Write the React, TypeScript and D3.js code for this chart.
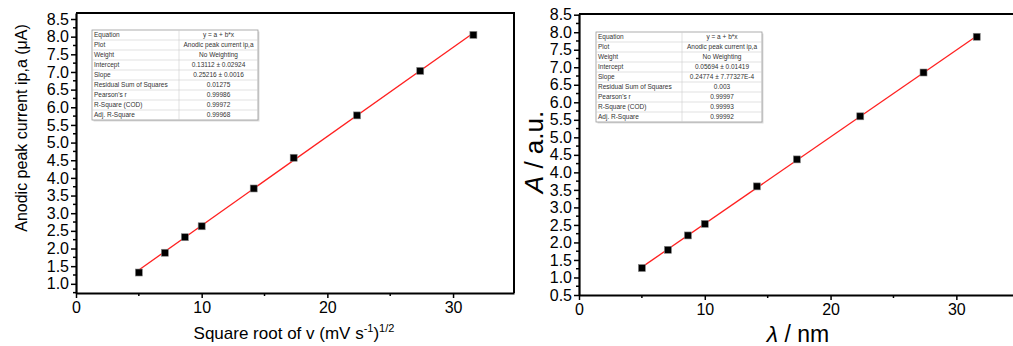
import { useRef, useEffect } from "react";
import * as d3 from "d3";

// square root of scan rate
const sqrtV = [5, 7.07, 8.66, 10, 14.14, 17.32, 22.36, 27.39, 31.62];
const currentA = [1.32, 1.88, 2.32, 2.63, 3.7, 4.57, 5.77, 7.03, 8.05];
const absB = [1.27, 1.79, 2.2, 2.53, 3.6, 4.37, 5.6, 6.85, 7.87];

const fitA = [0.13112, 0.25216];
const fitB = [0.05694, 0.24774];

const tableKeys = [
  "Equation",
  "Plot",
  "Weight",
  "Intercept",
  "Slope",
  "Residual Sum of Squares",
  "Pearson's r",
  "R-Square (COD)",
  "Adj. R-Square",
];
const tableA = [
  "y = a + b*x",
  "Anodic peak current ip,a",
  "No Weighting",
  "0.13112 \u00b1 0.02924",
  "0.25216 \u00b1 0.0016",
  "0.01275",
  "0.99986",
  "0.99972",
  "0.99968",
];
const tableB = [
  "y = a + b*x",
  "Anodic peak current ip,a",
  "No Weighting",
  "0.05694 \u00b1 0.01419",
  "0.24774 \u00b1 7.77327E-4",
  "0.003",
  "0.99997",
  "0.99993",
  "0.99992",
];

const yTicksA = d3.range(1, 8.51, 0.5);
const yTicksB = d3.range(0.5, 8.51, 0.5);
const xTicks = [0, 10, 20, 30];

const FONT = "Liberation Sans, Arial, sans-serif";

function drawPanel(svg, opt) {
  const { x0, x1, yTop, yBot, xDom, yDom, xs, ys, fit, yTicks, table, tbl } = opt;
  const g = svg.append("g");
  const x = d3.scaleLinear().domain(xDom).range([x0, x1]);
  const y = d3.scaleLinear().domain(yDom).range([yBot, yTop]);

  // frame (top and right)
  g.append("path")
    .attr("d", `M${x0},${yTop}H${x1}V${yBot}`)
    .attr("fill", "none")
    .attr("stroke", "#000")
    .attr("stroke-width", 2);

  // minor ticks
  const xMinor = d3.range(5, xDom[1], 10);
  g.selectAll(".xminor")
    .data(xMinor)
    .join("line")
    .attr("x1", (d) => x(d))
    .attr("x2", (d) => x(d))
    .attr("y1", yBot)
    .attr("y2", yBot + 3)
    .attr("stroke", "#000")
    .attr("stroke-width", 1.5);
  const yMinor = d3.range(yTicks[0] - 0.25, yDom[1], 0.5).filter((d) => d >= yDom[0]);
  g.selectAll(".yminor")
    .data(yMinor)
    .join("line")
    .attr("x1", x0)
    .attr("x2", x0 - 3)
    .attr("y1", (d) => y(d))
    .attr("y2", (d) => y(d))
    .attr("stroke", "#000")
    .attr("stroke-width", 1.5);

  const xAxis = g
    .append("g")
    .attr("transform", `translate(0,${yBot})`)
    .call(d3.axisBottom(x).tickValues(xTicks).tickSize(5).tickSizeOuter(0).tickPadding(4).tickFormat(d3.format("d")));
  const yAxis = g
    .append("g")
    .attr("transform", `translate(${x0},0)`)
    .call(d3.axisLeft(y).tickValues(yTicks).tickSize(5).tickSizeOuter(0).tickPadding(2).tickFormat(d3.format(".1f")));
  [xAxis, yAxis].forEach((a) => {
    a.select(".domain").attr("stroke-width", 2.2);
    a.selectAll(".tick line").attr("stroke-width", 1.5);
    a.selectAll("text").attr("font-family", FONT).attr("font-size", 16).attr("fill", "#000");
  });

  // fit line
  const line = d3
    .line()
    .x((d) => x(d))
    .y((d) => y(fit[0] + fit[1] * d));
  g.append("path")
    .datum([xs[0], xs[xs.length - 1]])
    .attr("d", line)
    .attr("fill", "none")
    .attr("stroke", "#ff2020")
    .attr("stroke-width", 1.3);

  g.selectAll(".pt")
    .data(xs)
    .join("rect")
    .attr("x", (d) => x(d) - 3.5)
    .attr("y", (d, i) => y(ys[i]) - 3.5)
    .attr("width", 7)
    .attr("height", 7)
    .attr("fill", "#000")
    .attr("stroke", "#888")
    .attr("stroke-width", 0.6);

  // fit table
  const rowH = (tbl.bottom - tbl.top) / table.length;
  const t = g.append("g");
  t.append("rect")
    .attr("x", tbl.left + 1.5)
    .attr("y", tbl.top + 1.5)
    .attr("width", tbl.right - tbl.left)
    .attr("height", tbl.bottom - tbl.top)
    .attr("fill", "#ddd");
  t.append("rect")
    .attr("x", tbl.left)
    .attr("y", tbl.top)
    .attr("width", tbl.right - tbl.left)
    .attr("height", tbl.bottom - tbl.top)
    .attr("fill", "#fff")
    .attr("stroke", "#999")
    .attr("stroke-width", 0.8);
  t.selectAll(".hl")
    .data(d3.range(1, table.length))
    .join("line")
    .attr("x1", tbl.left)
    .attr("x2", tbl.right)
    .attr("y1", (d) => tbl.top + d * rowH)
    .attr("y2", (d) => tbl.top + d * rowH)
    .attr("stroke", "#ccc")
    .attr("stroke-width", 0.6);
  t.append("line")
    .attr("x1", tbl.mid)
    .attr("x2", tbl.mid)
    .attr("y1", tbl.top)
    .attr("y2", tbl.bottom)
    .attr("stroke", "#ccc")
    .attr("stroke-width", 0.6);
  t.selectAll(".k")
    .data(tableKeys)
    .join("text")
    .attr("x", tbl.left + 2)
    .attr("y", (d, i) => tbl.top + (i + 0.5) * rowH + 2.3)
    .attr("font-family", FONT)
    .attr("font-size", 6.5)
    .attr("fill", "#333")
    .text((d) => d);
  t.selectAll(".v")
    .data(table)
    .join("text")
    .attr("x", (tbl.mid + tbl.right) / 2)
    .attr("y", (d, i) => tbl.top + (i + 0.5) * rowH + 2.3)
    .attr("text-anchor", "middle")
    .attr("font-family", FONT)
    .attr("font-size", 6.5)
    .attr("fill", "#333")
    .text((d) => d);
  return g;
}

export default function App() {
  const svgRef = useRef();

  useEffect(() => {
    const svg = d3.select(svgRef.current);
    svg.selectAll("*").remove();

    drawPanel(svg, {
      x0: 76,
      x1: 514,
      yTop: 13,
      yBot: 293,
      xDom: [0, 34.85],
      yDom: [0.74, 8.67],
      xs: sqrtV,
      ys: currentA,
      fit: fitA,
      yTicks: yTicksA,
      table: tableA,
      tbl: { left: 92, right: 258, mid: 179, top: 30, bottom: 120 },
    });
    drawPanel(svg, {
      x0: 579,
      x1: 1020,
      yTop: 14,
      yBot: 295,
      xDom: [0, 35.06],
      yDom: [0.5, 8.52],
      xs: sqrtV,
      ys: absB,
      fit: fitB,
      yTicks: yTicksB,
      table: tableB,
      tbl: { left: 596, right: 762, mid: 682, top: 32, bottom: 122 },
    });

    // axis titles
    svg.append("text")
      .attr("transform", "translate(27,128) rotate(-90)")
      .attr("text-anchor", "middle")
      .attr("font-family", FONT)
      .attr("font-size", 16)
      .text("Anodic peak current ip,a (\u03bcA)");

    const xl = svg.append("text")
      .attr("x", 294)
      .attr("y", 339)
      .attr("text-anchor", "middle")
      .attr("font-family", FONT)
      .attr("font-size", 17);
    xl.append("tspan").text("Square root of v (mV s");
    xl.append("tspan").attr("dy", -7).attr("font-size", 11).text("-1");
    xl.append("tspan").attr("dy", 7).text(")");
    xl.append("tspan").attr("dy", -7).attr("font-size", 11).text("1/2");

    const yl = svg.append("text")
      .attr("transform", "translate(543,152) rotate(-90)")
      .attr("text-anchor", "middle")
      .attr("font-family", FONT)
      .attr("font-size", 26);
    yl.append("tspan").attr("font-style", "italic").text("A");
    yl.append("tspan").text(" / a.u.");

    const xr = svg.append("text")
      .attr("x", 798)
      .attr("y", 342)
      .attr("text-anchor", "middle")
      .attr("font-family", FONT)
      .attr("font-size", 23);
    xr.append("tspan").attr("font-style", "italic").text("\u03bb");
    xr.append("tspan").text(" / nm");
  }, []);

  return (
    <svg
      ref={svgRef}
      width={1013}
      height={346}
      style={{ position: "absolute", left: 0, top: 0, background: "#fff" }}
    />
  );
}
